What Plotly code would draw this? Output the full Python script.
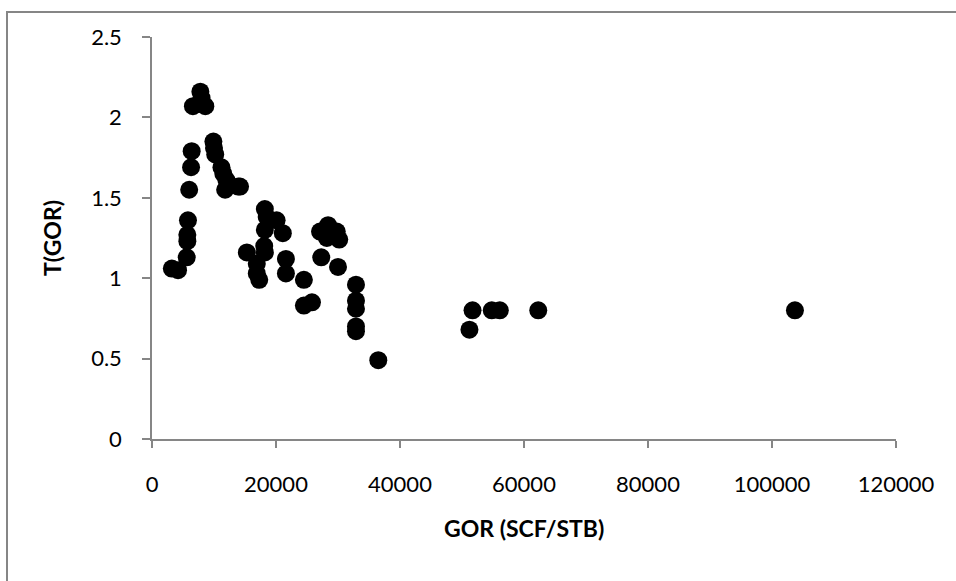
import plotly.graph_objects as go

# GOR (SCF/STB) values and T(GOR) values
gor = [3200, 4200, 5600, 5700, 5700, 5800, 6000, 6300, 6400, 6600,
       7800, 8000, 8600, 9900, 10000, 10200, 11200, 11500, 12000, 11800,
       13900, 14200, 15300, 16900, 16900, 17300, 18200, 18500, 18200, 18100,
       18200, 20100, 21100, 21600, 21600, 24500, 24500, 25800, 27100, 28200,
       28400, 29800, 30200, 27300, 30000, 32900, 32900, 32900, 32900, 32900,
       36500, 51200, 51700, 54800, 56100, 62300, 103700]
t_gor = [1.06, 1.05, 1.13, 1.23, 1.27, 1.36, 1.55, 1.69, 1.79, 2.07,
         2.16, 2.12, 2.07, 1.85, 1.81, 1.77, 1.69, 1.65, 1.61, 1.55,
         1.57, 1.57, 1.16, 1.09, 1.03, 0.99, 1.43, 1.38, 1.30, 1.20,
         1.16, 1.36, 1.28, 1.12, 1.03, 0.99, 0.83, 0.85, 1.29, 1.25,
         1.33, 1.29, 1.24, 1.13, 1.07, 0.96, 0.86, 0.81, 0.70, 0.67,
         0.49, 0.68, 0.80, 0.80, 0.80, 0.80, 0.80]

x_ticks = [0, 20000, 40000, 60000, 80000, 100000, 120000]
y_ticks = [0, 0.5, 1, 1.5, 2, 2.5]
y_tick_text = ["0", "0.5", "1", "1.5", "2", "2.5"]

x_title = "GOR (SCF/STB)"
y_title = "T(GOR)"

FONT = "Lato"
AXIS_COLOR = "#868686"

fig = go.Figure()
fig.add_trace(go.Scatter(
    x=gor, y=t_gor, mode="markers",
    marker=dict(size=18, color="black", line=dict(width=0)),
    showlegend=False, hoverinfo="x+y",
))

L, R, T, B = 152, 60, 37, 142
W, H = 956, 581
pw, ph = W - L - R, H - T - B

fig.update_layout(
    width=W, height=H,
    margin=dict(l=L, r=R, t=T, b=B, pad=0),
    paper_bgcolor="white", plot_bgcolor="white",
    font=dict(family=FONT, size=22, color="black"),
    xaxis=dict(
        range=[0, 120000], tickvals=x_ticks, ticktext=[str(v) for v in x_ticks],
        showgrid=False, zeroline=False, showline=True, linecolor=AXIS_COLOR,
        linewidth=1.5, ticks="outside", ticklen=7, tickwidth=1.5,
        tickcolor=AXIS_COLOR, ticklabelstandoff=18,
        tickfont=dict(family=FONT, size=22, color="black"),
    ),
    yaxis=dict(
        range=[0, 2.5], tickvals=y_ticks, ticktext=y_tick_text,
        showgrid=False, zeroline=False, showline=True, linecolor=AXIS_COLOR,
        linewidth=1.5, ticks="outside", ticklen=8, tickwidth=1.5,
        tickcolor=AXIS_COLOR, ticklabelstandoff=16,
        tickfont=dict(family=FONT, size=22, color="black"),
    ),
    annotations=[
        dict(text="<b>" + x_title + "</b>", xref="paper", yref="paper",
             x=(524 - L) / pw, y=(H - B - 528) / ph, xanchor="center",
             yanchor="middle", showarrow=False,
             font=dict(family=FONT, size=23, color="black")),
        dict(text="<b>" + y_title + "</b>", xref="paper", yref="paper",
             x=(52 - L) / pw, y=(H - B - 238) / ph, xanchor="center",
             yanchor="middle", showarrow=False, textangle=-90,
             font=dict(family=FONT, size=23, color="black")),
    ],
    shapes=[
        dict(type="line", xref="paper", yref="paper",
             x0=(7 - L) / pw, x1=(7 - L) / pw,
             y0=(H - B - 12) / ph, y1=(H - B - 600) / ph,
             line=dict(color=AXIS_COLOR, width=2)),
        dict(type="line", xref="paper", yref="paper",
             x0=(6 - L) / pw, x1=(980 - L) / pw,
             y0=(H - B - 12) / ph, y1=(H - B - 12) / ph,
             line=dict(color=AXIS_COLOR, width=2)),
    ],
)

fig.write_html("out.html")
